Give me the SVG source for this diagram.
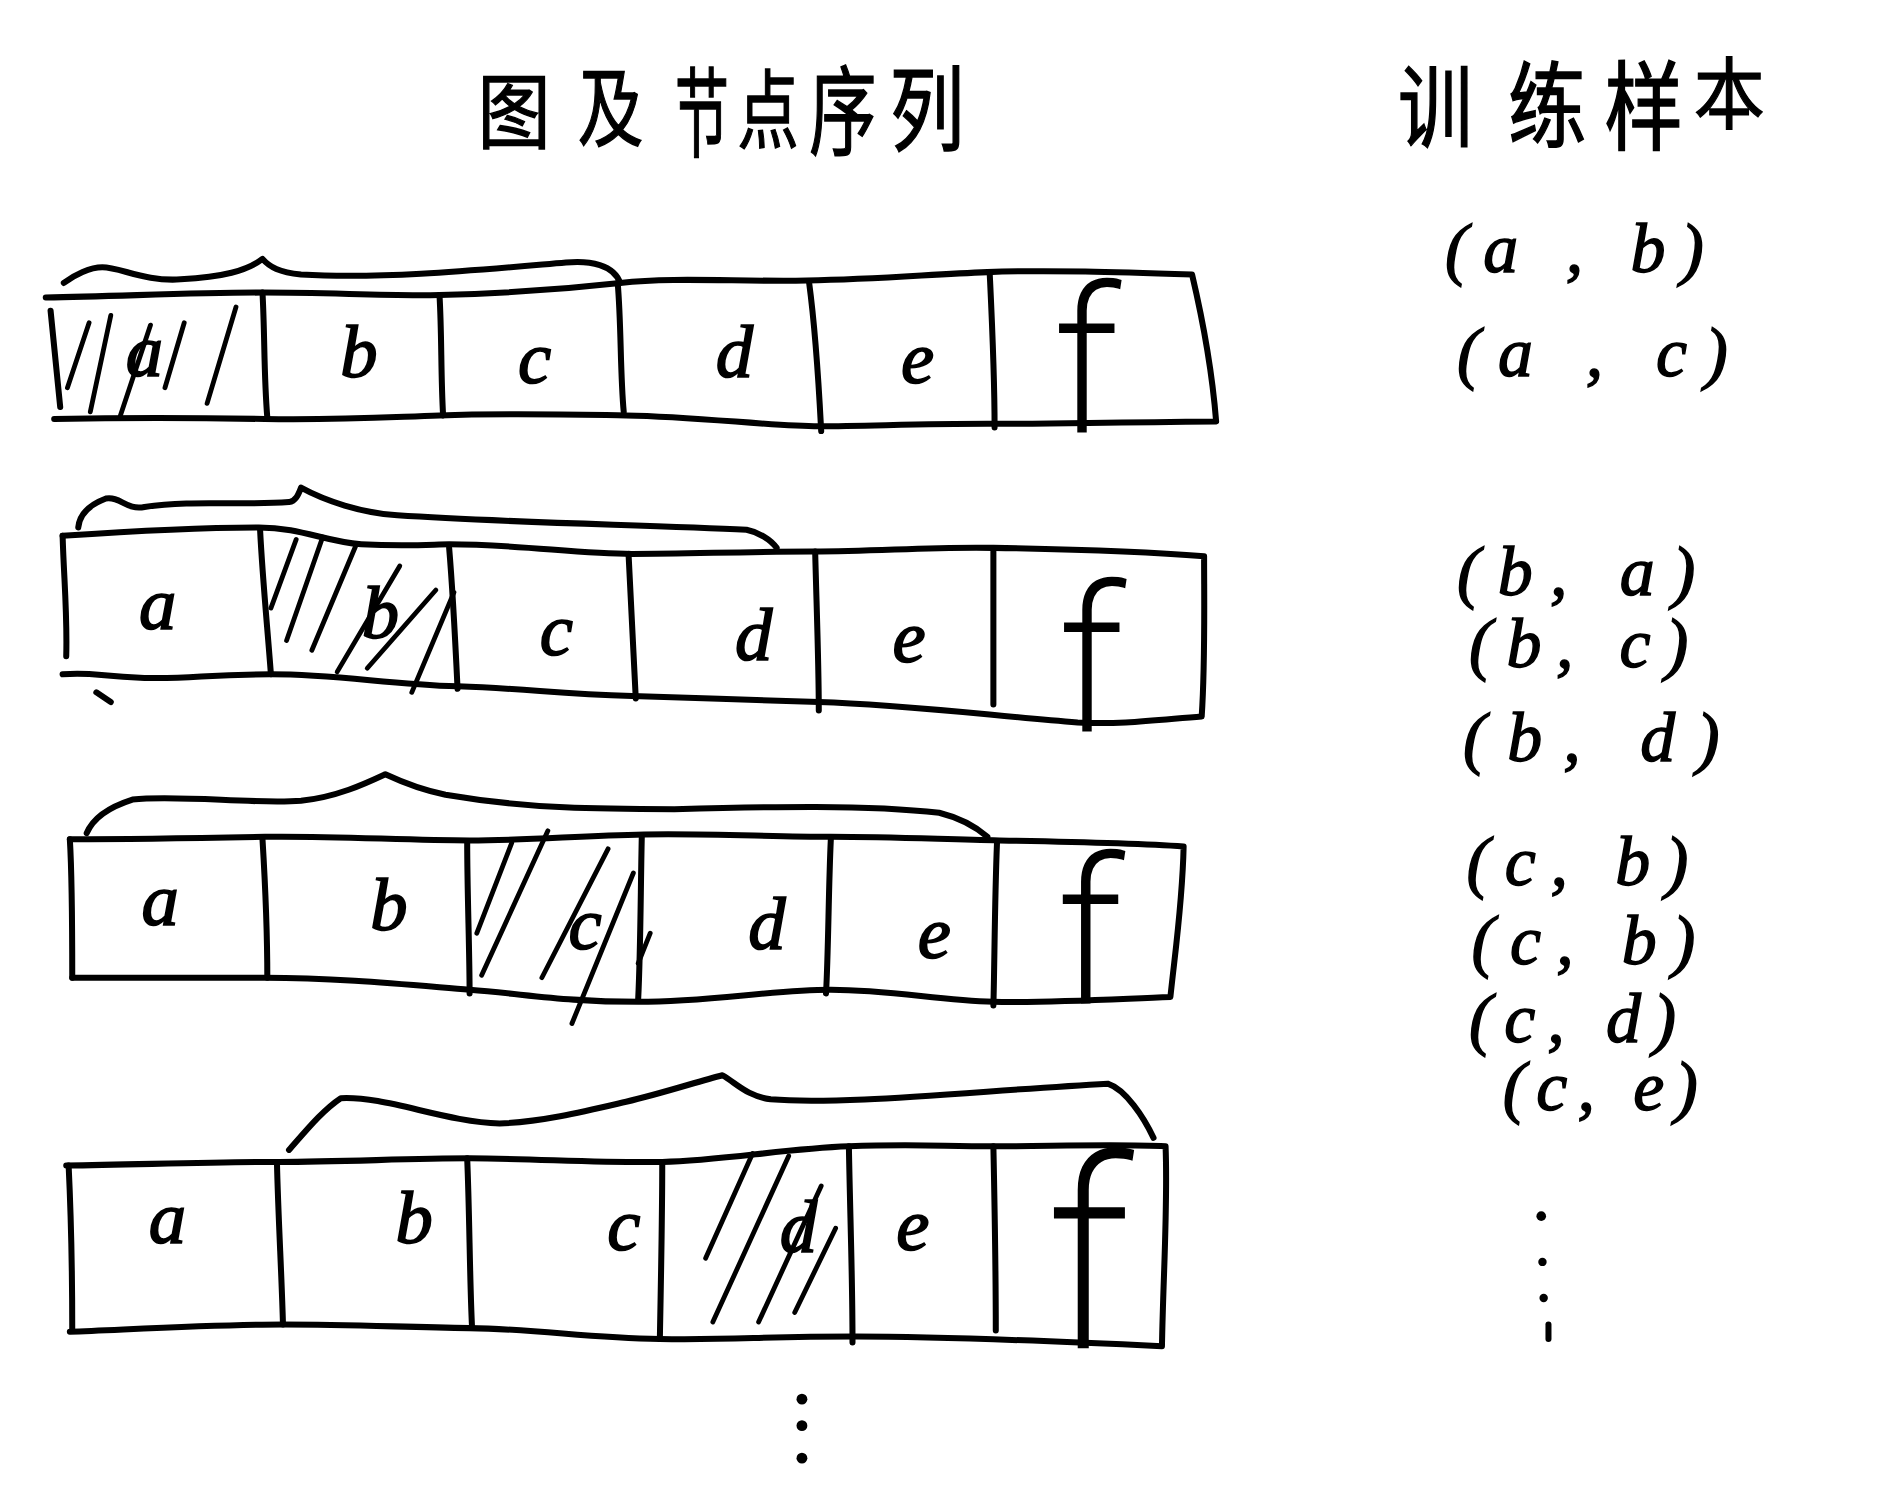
<svg xmlns="http://www.w3.org/2000/svg" width="1888" height="1488" viewBox="0 0 1888 1488">
<style>
.s{fill:none;stroke:#000;stroke-width:5;stroke-linecap:round;stroke-linejoin:round}
.h{fill:none;stroke:#000;stroke-width:4;stroke-linecap:round}
.l{font-family:"Liberation Serif",serif;font-style:italic;font-size:62px;fill:#000;stroke:#000;stroke-width:1.4;text-anchor:middle}
.f{font-family:Roboto,"Liberation Sans",sans-serif;font-style:normal;font-weight:100;font-size:165px;stroke-width:3.5}
.t{font-family:"Noto Sans CJK SC",sans-serif;font-size:62px;fill:#000;stroke:#000;stroke-width:1;text-anchor:middle}
.p{font-family:"Liberation Serif",serif;font-style:italic;font-size:58px;fill:#000;stroke:#000;stroke-width:1.2}
</style>
<rect width="1888" height="1488" fill="#fff"/>
<g transform="scale(1.2041)">
<g id="title-left"><text class="t" transform="translate(427 118) scale(.98 1.1)">图</text><text class="t" transform="translate(507 116) scale(.88 1.15)">及</text><text class="t" transform="translate(583 124) scale(.72 1.3)">节</text><text class="t" transform="translate(638 118) scale(.82 1.15)">点</text><text class="t" transform="translate(700 122) scale(.9 1.3)">序</text><text class="t" transform="translate(770 120) scale(1 1.25)">列</text></g>
<g id="title-right"><text class="t" transform="translate(1192 116) scale(1 1.2)">训</text><text class="t" transform="translate(1285 116) scale(1.05 1.25)">练</text><text class="t" transform="translate(1365 118) scale(1.05 1.3)">样</text><text class="t" transform="translate(1436 102) scale(.95 1.05)">本</text></g>

<g id="row1">
<path class="s" d="M38 247C100 246 160 243 218 243S320 246 365 245S470 240 515 235S610 234 670 233S770 228 820 226S930 226 990 228C998 262 1006 300 1010 350C900 351 880 352 820 352S720 354 680 354S580 346 520 345S420 343 365 345S280 349 220 348S100 347 45 348"/>
<path class="s" d="M42 258L50 338M218 243C220 280 219 310 222 347M365 245C367 280 366 310 368 345M513 235C516 270 515 310 518 342M672 235C678 280 680 320 682 358M822 228C824 270 826 310 826 355"/>
<path class="s" d="M53 235C62 228 75 222 85 222C100 222 120 234 150 232C185 230 205 225 218 215C224 222 232 226 250 228C320 232 400 224 470 218C490 216 510 220 515 235"/>
<path class="h" d="M74 268L56 322M92 262L75 342M125 270L100 345M153 268L137 322M196 255L172 335"/>
<g id="r1a"><text class="l" x="120" y="312">a</text></g><g id="r1b"><text class="l" x="298" y="313">b</text></g><g id="r1c"><text class="l" x="444" y="318">c</text></g><g id="r1d"><text class="l" x="610" y="313">d</text></g><g id="r1e"><text class="l" x="762" y="318">e</text></g><g id="r1f"><text class="l f" x="902" y="358">f</text></g>
</g>

<g id="row2">
<path class="s" d="M52 445C110 441 170 438 215 438C250 438 270 450 300 452C340 454 360 452 373 452C430 452 480 460 525 460S620 458 675 458S770 454 825 455S950 458 1000 462C1000 500 1001 550 998 595C960 598 930 602 895 600C820 594 750 585 680 583S590 580 525 578S440 572 380 570S280 560 225 560S160 564 120 563S80 558 52 560"/>
<path class="s" d="M52 445C53 480 56 510 55 545M216 440C218 480 222 520 225 560M373 455C376 490 378 530 380 572M522 460C524 500 526 540 528 580M677 458C678 500 680 550 680 590M825 458L825 585"/>
<path class="s" d="M65 438C66 428 72 420 88 414C100 412 105 424 120 421C160 415 200 420 240 417C246 416 248 410 250 405C270 416 300 426 330 428C420 434 540 436 620 440C630 442 640 448 645 455"/>
<path class="h" d="M246 448L225 505M268 446L238 532M296 452L259 540M332 470L280 558M362 490L305 555M377 492L342 575"/>
<path class="s" d="M80 575L92 583"/>
<g id="r2a"><text class="l" x="131" y="522">a</text></g><g id="r2b"><text class="l" x="316" y="530">b</text></g><g id="r2c"><text class="l" x="462" y="544">c</text></g><g id="r2d"><text class="l" x="626" y="548">d</text></g><g id="r2e"><text class="l" x="755" y="550">e</text></g><g id="r2f"><text class="l f" x="906" y="606">f</text></g>
</g>

<g id="row3">
<path class="s" d="M58 697C120 697 170 696 220 695S340 698 390 698S480 694 535 693S640 695 690 695S780 697 830 698S940 700 983 703C982 750 976 790 972 828C920 830 870 833 825 832S740 822 690 822S590 832 530 832S440 826 390 822S280 812 220 812S110 812 60 812"/>
<path class="s" d="M58 697C60 730 60 780 60 812M218 697C220 730 222 780 222 812M388 700C388 740 390 790 390 825M533 695C532 740 532 790 530 830M690 697C688 740 688 790 686 825M828 700C826 750 826 800 825 835"/>
<path class="s" d="M72 692C76 682 85 672 110 664C150 660 210 668 250 665C280 662 305 650 320 643C335 650 350 656 370 660C440 672 500 672 560 672C640 670 720 668 780 675C800 680 812 688 820 695"/>
<path class="h" d="M425 700L396 775M455 690L400 810M505 705L450 812M526 725L475 850M540 775L530 800"/>
<g id="r3a"><text class="l" x="133" y="768">a</text></g><g id="r3b"><text class="l" x="323" y="772">b</text></g><g id="r3c"><text class="l" x="486" y="788">c</text></g><g id="r3d"><text class="l" x="637" y="788">d</text></g><g id="r3e"><text class="l" x="776" y="796">e</text></g><g id="r3f"><text class="l f" x="905" y="832">f</text></g>
</g>

<g id="row4">
<path class="s" d="M55 968C120 967 180 965 232 965S340 962 390 962S500 966 550 965S650 954 705 952S780 952 825 952S930 950 968 952C970 1000 966 1060 965 1118C880 1114 790 1110 710 1110S610 1113 548 1112S450 1104 390 1103S290 1100 235 1100S110 1104 58 1106"/>
<path class="s" d="M57 968C59 1010 60 1060 60 1105M230 965C231 1010 234 1060 235 1100M388 962C390 1010 390 1060 392 1102M550 965C550 1010 549 1060 548 1112M705 952C706 1010 708 1060 708 1115M825 952C826 1000 827 1060 827 1105"/>
<path class="s" d="M240 955C255 938 268 922 283 912C320 910 370 932 415 933C450 932 490 922 520 915C550 908 580 898 600 893C612 900 620 910 640 913C700 918 810 906 920 900C935 905 950 928 958 945"/>
<path class="h" d="M625 958L586 1045M655 960L592 1098M682 985L630 1098M694 1020L660 1090"/>
<g id="r4a"><text class="l" x="139" y="1032">a</text></g><g id="r4b"><text class="l" x="344" y="1032">b</text></g><g id="r4c"><text class="l" x="518" y="1038">c</text></g><g id="r4d"><text class="l" x="663" y="1040">d</text></g><g id="r4e"><text class="l" x="758" y="1038">e</text></g><text class="l f" x="904" y="1118" font-size="215" style="font-size:215px">f</text>
</g>

<g id="dots-left"><circle cx="666" cy="1162" r="4.5"/><circle cx="666" cy="1184" r="4.5"/><circle cx="666" cy="1211" r="4.5"/></g>
<g id="dots-right"><circle cx="1280" cy="1010" r="4"/><circle cx="1281" cy="1048" r="3.5"/><circle cx="1282" cy="1078" r="3.5"/><path class="s" d="M1286 1100L1286 1112" stroke-width="3"/></g>

<g id="samples">
<text class="p" x="1200" y="226" textLength="215" lengthAdjust="spacing">(a , b)</text>
<text class="p" x="1210" y="312" textLength="225" lengthAdjust="spacing">(a , c)</text>
<text class="p" x="1210" y="494" textLength="198" lengthAdjust="spacing">(b, a)</text>
<text class="p" x="1220" y="554" textLength="182" lengthAdjust="spacing">(b, c)</text>
<text class="p" x="1215" y="632" textLength="213" lengthAdjust="spacing">(b, d)</text>
<text class="p" x="1218" y="735" textLength="184" lengthAdjust="spacing">(c, b)</text>
<text class="p" x="1222" y="801" textLength="186" lengthAdjust="spacing">(c, b)</text>
<text class="p" x="1220" y="865" textLength="172" lengthAdjust="spacing">(c, d)</text>
<text class="p" x="1248" y="922" textLength="162" lengthAdjust="spacing">(c, e)</text>
</g>
</g>
</svg>
